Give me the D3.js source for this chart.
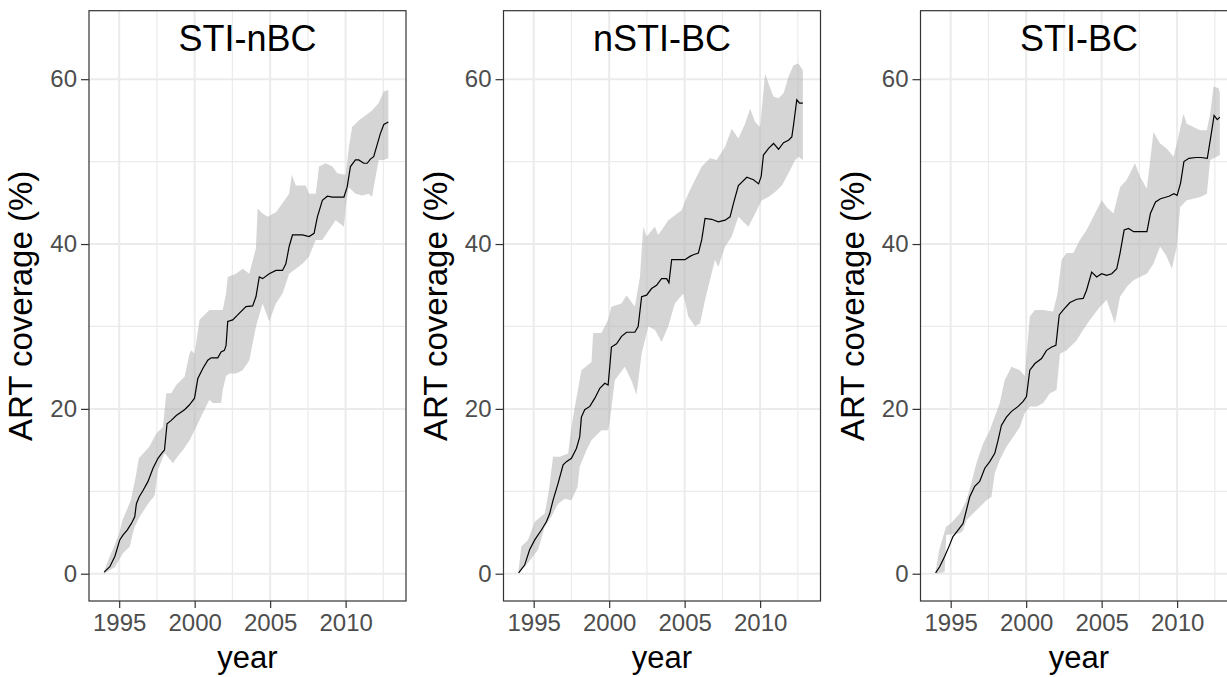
<!DOCTYPE html>
<html><head><meta charset="utf-8">
<script src="https://cdn.jsdelivr.net/npm/d3@7"></script>
<style>html,body{margin:0;padding:0;background:#fff;}svg{display:block;}</style>
</head><body>
<svg id="chart" width="1227" height="677"></svg>
<script>
// ---------- data ----------
const panelTitles = ["STI-nBC", "nSTI-BC", "STI-BC"];
const xTickValues = [1995, 2000, 2005, 2010];
const yTickValues = [0, 20, 40, 60];
const xAxisTitle = "year";
const yAxisTitle = "ART coverage (%)";

// central estimate, [year, coverage %]
const stiNbcLine = [[1994.0,0.2],[1994.38,0.85],[1994.71,2.1],[1995.04,4.1],[1995.26,4.7],[1995.53,5.3],[1995.81,6.1],[1996.03,6.9],[1996.14,8.5],[1996.32,9.3],[1996.58,10.1],[1996.91,11.2],[1997.24,12.8],[1997.57,14.0],[1997.9,14.8],[1998.0,15.0],[1998.17,18.2],[1998.45,18.6],[1998.78,19.2],[1999.33,19.9],[1999.66,20.5],[1999.99,21.3],[2000.21,23.7],[2000.54,24.9],[2000.87,25.9],[2001.09,26.2],[2001.53,26.2],[2001.75,26.9],[2001.97,27.1],[2002.08,27.7],[2002.19,30.6],[2002.52,30.8],[2002.85,31.4],[2003.4,32.4],[2003.84,32.5],[2004.06,33.6],[2004.28,36.0],[2004.5,35.8],[2004.94,36.4],[2005.38,36.8],[2005.82,36.8],[2006.04,37.6],[2006.26,39.7],[2006.48,41.1],[2007.14,41.1],[2007.58,40.9],[2007.91,41.3],[2008.13,43.3],[2008.46,45.3],[2008.79,45.8],[2009.12,45.7],[2009.89,45.7],[2010.1,46.9],[2010.32,49.4],[2010.65,50.2],[2010.87,50.2],[2011.2,49.8],[2011.43,49.8],[2011.64,50.3],[2011.86,50.6],[2012.08,52.0],[2012.3,53.4],[2012.53,54.5],[2012.83,54.8]];
const stiNbcUpper = [[1994.0,0.3],[1994.33,1.9],[1994.66,3.3],[1995.0,4.9],[1995.22,6.5],[1995.77,8.9],[1996.1,11.8],[1996.3,14.0],[1996.99,15.4],[1997.46,17.0],[1997.9,17.8],[1998.12,21.9],[1998.45,21.9],[1998.78,22.9],[1999.33,23.9],[1999.66,26.7],[1999.77,27.1],[1999.99,26.7],[2000.32,30.8],[2000.54,31.2],[2000.98,32.0],[2001.86,32.0],[2002.08,34.0],[2002.19,36.0],[2002.74,36.4],[2003.18,37.0],[2003.62,36.4],[2004.06,39.5],[2004.17,44.3],[2004.5,43.7],[2004.83,43.3],[2005.4,43.9],[2006.26,46.1],[2006.43,48.4],[2006.7,47.1],[2007.36,47.1],[2007.58,46.1],[2008.02,46.1],[2008.24,49.4],[2008.68,49.8],[2009.12,49.4],[2009.45,48.6],[2010.0,48.4],[2010.22,51.8],[2010.43,54.2],[2010.87,55.0],[2011.31,55.6],[2011.75,56.2],[2012.19,57.1],[2012.52,58.5],[2012.83,58.7]];
const stiNbcLower = [[1994.0,0.0],[1994.71,0.8],[1995.26,2.5],[1995.7,3.3],[1995.92,5.0],[1996.03,5.7],[1996.36,6.9],[1996.91,8.5],[1997.35,9.5],[1997.46,11.0],[1997.57,12.6],[1998.0,14.6],[1998.03,14.6],[1998.56,13.4],[1998.78,14.0],[1999.22,15.0],[1999.66,16.2],[2000.1,17.8],[2000.54,19.5],[2000.98,21.1],[2001.2,20.7],[2001.75,20.7],[2001.86,22.3],[2002.08,24.0],[2002.3,24.3],[2002.74,24.3],[2003.18,24.7],[2003.62,25.9],[2004.06,30.0],[2004.5,32.8],[2004.94,30.6],[2005.38,32.8],[2005.82,34.0],[2006.26,36.4],[2006.7,37.0],[2007.14,37.6],[2007.58,38.5],[2008.02,40.5],[2008.46,40.5],[2008.9,41.7],[2009.34,42.9],[2009.89,42.1],[2010.0,44.5],[2010.21,46.9],[2010.65,46.1],[2011.09,45.9],[2011.53,46.1],[2011.75,45.7],[2011.97,48.0],[2012.19,50.2],[2012.52,50.2],[2012.83,50.4]];

const nstiBcLine = [[1994.0,0.1],[1994.4,1.05],[1994.73,2.9],[1995.07,4.1],[1995.51,5.3],[1995.84,6.3],[1996.06,7.3],[1996.28,8.9],[1996.62,11.0],[1996.95,13.2],[1997.17,13.6],[1997.5,14.0],[1997.83,15.2],[1998.05,16.6],[1998.16,19.0],[1998.38,19.9],[1998.72,20.3],[1999.05,21.3],[1999.38,22.5],[1999.71,23.1],[1999.93,22.9],[2000.04,25.1],[2000.15,27.5],[2000.49,27.9],[2000.82,28.8],[2001.15,29.3],[2001.7,29.3],[2001.92,30.0],[2002.15,33.6],[2002.48,33.8],[2002.81,34.6],[2003.14,35.0],[2003.47,35.8],[2003.81,35.8],[2003.96,35.3],[2004.14,38.1],[2004.58,38.1],[2005.02,38.1],[2005.35,38.5],[2005.58,38.7],[2005.91,38.9],[2006.13,40.5],[2006.35,43.1],[2006.79,43.0],[2007.23,42.7],[2007.68,42.9],[2008.01,43.3],[2008.23,44.9],[2008.56,47.1],[2009.12,48.1],[2009.56,47.8],[2009.9,47.3],[2010.07,48.2],[2010.22,50.8],[2010.56,51.6],[2010.89,52.2],[2011.22,51.5],[2011.55,52.3],[2011.88,52.6],[2012.1,53.0],[2012.21,54.4],[2012.43,57.5],[2012.61,57.1],[2012.83,57.1]];
const nstiBcUpper = [[1994.0,0.45],[1994.18,3.3],[1994.62,4.1],[1995.07,6.3],[1995.73,7.3],[1996.0,10.0],[1996.28,14.2],[1996.73,14.2],[1997.28,14.6],[1997.5,17.8],[1997.61,19.0],[1998.16,24.7],[1998.83,25.7],[1998.94,29.2],[1999.49,29.2],[1999.93,30.8],[2000.15,32.4],[2000.82,32.8],[2001.15,33.8],[2001.7,32.4],[2002.04,36.0],[2002.26,42.1],[2002.48,40.9],[2003.03,42.1],[2003.25,41.1],[2003.92,42.9],[2004.8,44.1],[2005.24,46.1],[2005.69,47.8],[2006.13,49.4],[2006.68,50.4],[2007.12,50.2],[2007.68,51.8],[2008.12,54.0],[2008.56,52.8],[2009.0,54.6],[2009.34,56.4],[2009.67,54.8],[2010.0,54.2],[2010.33,60.7],[2010.55,59.5],[2010.88,57.9],[2011.22,57.7],[2011.55,58.3],[2011.88,60.3],[2012.21,61.7],[2012.54,61.9],[2012.83,61.1]];
const nstiBcLower = [[1994.0,0.0],[1994.62,1.3],[1995.29,2.9],[1995.73,5.7],[1996.17,6.9],[1996.61,8.5],[1997.06,9.1],[1997.5,8.9],[1997.9,10.5],[1998.05,13.0],[1998.5,15.0],[1998.83,16.2],[1999.49,17.4],[1999.93,17.4],[2000.04,18.6],[2000.38,23.5],[2001.04,25.1],[2001.48,23.4],[2001.81,21.7],[2002.15,26.7],[2002.59,30.0],[2003.03,29.6],[2003.47,28.1],[2003.91,30.0],[2004.35,32.8],[2004.91,34.0],[2005.24,31.2],[2005.69,30.0],[2006.02,30.4],[2006.35,33.2],[2007.01,38.1],[2007.23,37.2],[2007.68,39.7],[2008.12,40.9],[2008.56,43.3],[2009.22,42.1],[2009.67,43.7],[2010.11,45.3],[2010.55,45.7],[2010.99,46.3],[2011.44,47.1],[2011.88,48.6],[2012.32,50.2],[2012.54,50.6],[2012.83,50.2]];

const stiBcLine = [[1994.0,0.1],[1994.27,0.85],[1994.6,2.1],[1994.93,3.5],[1995.15,4.5],[1995.49,5.3],[1995.82,6.1],[1996.04,7.7],[1996.26,9.3],[1996.59,10.6],[1996.92,11.2],[1997.26,12.8],[1997.59,13.6],[1997.92,14.6],[1998.14,16.2],[1998.36,18.0],[1998.69,19.0],[1999.03,19.7],[1999.47,20.3],[1999.8,20.9],[2000.02,21.5],[2000.24,24.7],[2000.58,25.5],[2001.02,26.1],[2001.35,27.1],[2001.69,27.5],[2001.97,27.7],[2002.19,31.4],[2002.46,32.0],[2002.9,32.9],[2003.35,33.3],[2003.78,33.4],[2004.0,34.4],[2004.34,36.6],[2004.67,36.0],[2005.0,36.4],[2005.33,36.2],[2005.67,36.4],[2006.0,37.0],[2006.22,38.9],[2006.49,41.7],[2006.78,41.9],[2007.12,41.5],[2007.56,41.5],[2008.0,41.5],[2008.23,43.7],[2008.57,45.1],[2008.9,45.5],[2009.46,45.8],[2009.79,46.1],[2010.0,45.9],[2010.23,47.4],[2010.45,50.0],[2010.78,50.4],[2011.23,50.5],[2011.56,50.5],[2012.0,50.4],[2012.23,53.0],[2012.45,55.6],[2012.66,55.1],[2012.83,55.4]];
const stiBcUpper = [[1994.0,0.2],[1994.24,2.9],[1994.69,5.7],[1995.0,6.1],[1995.6,7.3],[1996.04,8.9],[1996.37,11.0],[1996.7,13.4],[1997.15,15.8],[1997.59,17.4],[1998.25,20.7],[1998.58,23.5],[1999.03,25.1],[1999.58,24.7],[1999.91,24.0],[2000.24,31.2],[2000.58,32.0],[2001.13,32.0],[2001.79,31.8],[2002.08,34.0],[2002.35,38.1],[2002.68,38.9],[2003.12,38.9],[2003.56,40.5],[2004.0,41.7],[2004.45,43.3],[2005.0,45.3],[2005.33,44.5],[2005.78,43.7],[2006.22,46.9],[2006.66,47.8],[2007.21,49.8],[2007.54,48.2],[2007.99,46.7],[2008.21,50.0],[2008.43,53.6],[2008.87,52.2],[2009.31,51.6],[2009.76,50.6],[2009.98,52.2],[2010.42,55.8],[2010.64,54.6],[2011.08,54.2],[2011.53,53.8],[2011.97,53.8],[2012.19,55.8],[2012.41,59.1],[2012.74,58.9],[2012.83,58.3]];
const stiBcLower = [[1994.0,0.0],[1994.6,0.2],[1994.71,4.7],[1995.6,4.9],[1995.82,5.2],[1996.04,6.5],[1996.48,7.3],[1996.92,8.1],[1997.37,8.9],[1997.7,9.3],[1997.92,12.2],[1998.25,13.8],[1998.69,15.4],[1999.14,16.6],[1999.58,17.8],[1999.91,19.5],[2000.24,20.3],[2000.69,20.3],[2001.13,20.7],[2001.57,21.9],[2002.01,22.3],[2002.24,26.7],[2002.68,27.1],[2003.34,28.3],[2003.78,29.6],[2004.23,30.8],[2004.89,32.4],[2005.33,33.2],[2005.88,30.4],[2006.22,33.6],[2006.66,34.8],[2007.1,35.6],[2007.54,36.0],[2007.99,36.4],[2008.43,37.6],[2008.87,39.7],[2009.31,38.5],[2009.65,37.0],[2009.98,39.7],[2010.2,44.5],[2010.64,45.3],[2011.08,45.5],[2011.53,45.7],[2011.97,46.1],[2012.19,50.2],[2012.63,50.6],[2012.83,50.8]];

const panelLines = [stiNbcLine, nstiBcLine, stiBcLine];
const panelUppers = [stiNbcUpper, nstiBcUpper, stiBcUpper];
const panelLowers = [stiNbcLower, nstiBcLower, stiBcLower];

// ---------- layout ----------
const svg = d3.select("#chart");
const panelLefts = [89, 503.5, 920.5];
const panelW = 317, panelTop = 10.7, panelBottom = 601;
const xDomain = [1993.0, 2014.0];
const yDomain = [-3.31, 68.31];
const fontFam = "'Liberation Sans', Arial, Helvetica, sans-serif";

panelLefts.forEach((left, i) => {
  const x = d3.scaleLinear().domain(xDomain).range([left, left + panelW]);
  const y = d3.scaleLinear().domain(yDomain).range([panelBottom, panelTop]);
  const g = svg.append("g");

  // grid: minor
  const xMinor = [1992.5, 1997.5, 2002.5, 2007.5, 2012.5].filter(v => v > xDomain[0] && v < xDomain[1]);
  const yMinor = [10, 30, 50].filter(v => v > yDomain[0] && v < yDomain[1]);
  g.selectAll(".xminor").data(xMinor).join("line")
    .attr("x1", d => x(d)).attr("x2", d => x(d)).attr("y1", panelTop).attr("y2", panelBottom)
    .attr("stroke", "#ebebeb").attr("stroke-width", 1.2);
  g.selectAll(".yminor").data(yMinor).join("line")
    .attr("y1", d => y(d)).attr("y2", d => y(d)).attr("x1", left).attr("x2", left + panelW)
    .attr("stroke", "#ebebeb").attr("stroke-width", 1.2);
  // grid: major
  g.selectAll(".xmajor").data(xTickValues).join("line")
    .attr("x1", d => x(d)).attr("x2", d => x(d)).attr("y1", panelTop).attr("y2", panelBottom)
    .attr("stroke", "#ebebeb").attr("stroke-width", 2);
  g.selectAll(".ymajor").data(yTickValues).join("line")
    .attr("y1", d => y(d)).attr("y2", d => y(d)).attr("x1", left).attr("x2", left + panelW)
    .attr("stroke", "#ebebeb").attr("stroke-width", 2);

  // clip
  const clipId = "clip" + i;
  svg.append("clipPath").attr("id", clipId).append("rect")
    .attr("x", left).attr("y", panelTop).attr("width", panelW).attr("height", panelBottom - panelTop);
  const plot = g.append("g").attr("clip-path", `url(#${clipId})`);

  // ribbon polygon: upper forward, lower backward
  const poly = panelUppers[i].concat(panelLowers[i].slice().reverse());
  plot.append("path")
    .attr("d", d3.line().x(d => x(d[0])).y(d => y(d[1]))(poly) + "Z")
    .attr("fill", "#b3b3b3").attr("fill-opacity", 0.55).attr("stroke", "none");

  plot.append("path")
    .attr("d", d3.line().x(d => x(d[0])).y(d => y(d[1]))(panelLines[i]))
    .attr("fill", "none").attr("stroke", "#000").attr("stroke-width", 1.2);

  // border
  g.append("rect").attr("x", left).attr("y", panelTop).attr("width", panelW).attr("height", panelBottom - panelTop)
    .attr("fill", "none").attr("stroke", "#333333").attr("stroke-width", 1.2);

  // axes
  const xAxis = d3.axisBottom(x).tickValues(xTickValues).tickFormat(d3.format("d")).tickSize(7).tickPadding(6);
  const xa = g.append("g").attr("transform", `translate(0,${panelBottom})`).call(xAxis);
  xa.select(".domain").remove();
  xa.selectAll("line").attr("stroke", "#333333").attr("stroke-width", 1.2);
  xa.selectAll("text").attr("fill", "#4d4d4d").style("font-family", fontFam).style("font-size", "24px");

  const yAxis = d3.axisLeft(y).tickValues(yTickValues).tickFormat(d3.format("d")).tickSize(8).tickPadding(4);
  const ya = g.append("g").attr("transform", `translate(${left},0)`).call(yAxis);
  ya.select(".domain").remove();
  ya.selectAll("line").attr("stroke", "#333333").attr("stroke-width", 1.2);
  ya.selectAll("text").attr("fill", "#4d4d4d").style("font-family", fontFam).style("font-size", "24px");

  // title
  g.append("text").attr("x", left + panelW / 2).attr("y", 50.5)
    .attr("text-anchor", "middle").style("font-family", fontFam).style("font-size", "36px").attr("fill", "#000")
    .text(panelTitles[i]);

  // axis titles
  g.append("text").attr("x", left + panelW / 2).attr("y", 668)
    .attr("text-anchor", "middle").style("font-family", fontFam).style("font-size", "31px").attr("fill", "#000")
    .text(xAxisTitle);
  g.append("text")
    .attr("transform", `translate(${left - 57},${(panelTop + panelBottom) / 2}) rotate(-90)`)
    .attr("text-anchor", "middle").style("font-family", fontFam).style("font-size", "33px").attr("fill", "#000")
    .text(yAxisTitle);
});
</script>
</body></html>
